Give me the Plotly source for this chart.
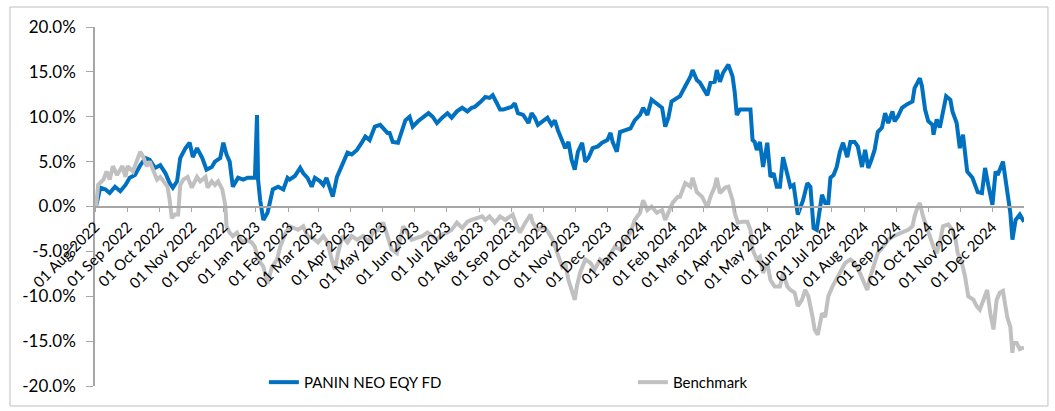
import plotly.graph_objects as go

# ---- data (percent returns) ----
fund_dates = [
    "2022-08-02", "2022-08-06", "2022-08-11", "2022-08-15", "2022-08-20", "2022-08-25", "2022-08-30",
    "2022-09-03", "2022-09-08", "2022-09-13", "2022-09-18", "2022-09-22", "2022-09-27", "2022-10-02",
    "2022-10-07", "2022-10-11", "2022-10-14", "2022-10-18", "2022-10-21", "2022-10-26", "2022-10-30",
    "2022-11-02", "2022-11-06", "2022-11-11", "2022-11-15", "2022-11-20", "2022-11-23", "2022-11-28",
    "2022-12-01", "2022-12-04", "2022-12-07", "2022-12-10", "2022-12-15", "2022-12-20", "2022-12-24",
    "2022-12-31", "2023-01-02", "2023-01-03", "2023-01-05", "2023-01-08", "2023-01-12", "2023-01-17",
    "2023-01-22", "2023-01-27", "2023-01-31", "2023-02-02", "2023-02-07", "2023-02-12", "2023-02-15",
    "2023-02-19", "2023-02-23", "2023-02-26", "2023-03-03", "2023-03-06", "2023-03-09", "2023-03-12",
    "2023-03-15", "2023-03-19", "2023-03-22", "2023-03-25", "2023-03-29", "2023-04-02", "2023-04-07",
    "2023-04-12", "2023-04-15", "2023-04-19", "2023-04-24", "2023-04-29", "2023-05-02", "2023-05-06",
    "2023-05-08", "2023-05-11", "2023-05-16", "2023-05-20", "2023-05-23", "2023-05-27", "2023-05-30",
    "2023-06-04", "2023-06-09", "2023-06-14", "2023-06-18", "2023-06-22", "2023-06-27", "2023-07-02",
    "2023-07-06", "2023-07-11", "2023-07-16", "2023-07-21", "2023-07-25", "2023-07-28", "2023-08-02",
    "2023-08-07", "2023-08-11", "2023-08-14", "2023-08-18", "2023-08-21", "2023-08-24", "2023-08-28",
    "2023-09-01", "2023-09-04", "2023-09-07", "2023-09-12", "2023-09-17", "2023-09-20", "2023-09-23",
    "2023-09-26", "2023-09-30", "2023-10-05", "2023-10-09", "2023-10-12", "2023-10-15", "2023-10-19",
    "2023-10-22", "2023-10-25", "2023-10-28", "2023-10-31", "2023-11-03", "2023-11-07", "2023-11-10",
    "2023-11-13", "2023-11-17", "2023-11-22", "2023-11-26", "2023-12-01", "2023-12-04", "2023-12-06",
    "2023-12-10", "2023-12-13", "2023-12-18", "2023-12-23", "2023-12-27", "2024-01-01", "2024-01-04",
    "2024-01-08", "2024-01-12", "2024-01-17", "2024-01-22", "2024-01-25", "2024-01-28", "2024-01-31",
    "2024-02-05", "2024-02-08", "2024-02-13", "2024-02-18", "2024-02-20", "2024-02-24", "2024-02-27",
    "2024-03-01", "2024-03-05", "2024-03-08", "2024-03-12", "2024-03-14", "2024-03-17", "2024-03-20",
    "2024-03-25", "2024-03-29", "2024-03-31", "2024-04-02", "2024-04-05", "2024-04-10", "2024-04-15",
    "2024-04-17", "2024-04-19", "2024-04-21", "2024-04-24", "2024-04-27", "2024-05-01", "2024-05-04",
    "2024-05-07", "2024-05-10", "2024-05-13", "2024-05-16", "2024-05-20", "2024-05-23", "2024-05-26",
    "2024-05-30", "2024-06-04", "2024-06-08", "2024-06-11", "2024-06-14", "2024-06-17", "2024-06-18",
    "2024-06-22", "2024-06-25", "2024-06-28", "2024-06-30", "2024-07-03", "2024-07-06", "2024-07-09",
    "2024-07-12", "2024-07-16", "2024-07-19", "2024-07-23", "2024-07-26", "2024-07-30", "2024-08-02",
    "2024-08-05", "2024-08-08", "2024-08-11", "2024-08-14", "2024-08-18", "2024-08-21", "2024-08-24",
    "2024-08-28", "2024-08-30", "2024-09-02", "2024-09-06", "2024-09-11", "2024-09-16", "2024-09-18",
    "2024-09-20", "2024-09-23", "2024-09-25", "2024-09-28", "2024-10-01", "2024-10-05", "2024-10-06",
    "2024-10-09", "2024-10-12", "2024-10-15", "2024-10-18", "2024-10-22", "2024-10-24", "2024-10-28",
    "2024-10-31", "2024-11-03", "2024-11-07", "2024-11-12", "2024-11-15", "2024-11-17", "2024-11-21",
    "2024-11-24", "2024-11-27", "2024-12-01", "2024-12-04", "2024-12-06", "2024-12-11", "2024-12-15",
    "2024-12-18", "2024-12-20", "2024-12-23", "2024-12-27", "2024-12-31",
]
fund_values = [
    0.0, 2.1, 1.9, 1.5, 2.2, 1.7, 2.4,
    3.2, 3.5, 4.6, 5.4, 5.2, 4.3, 4.6,
    3.7, 2.6, 2.1, 2.8, 5.4, 6.5, 7.1,
    5.5, 6.5, 5.4, 4.1, 4.4, 5.0, 5.4,
    7.1, 5.8, 5.0, 2.2, 3.2, 3.0, 3.2,
    3.2, 10.2, 3.0, 0.7, -1.5, -0.7, 1.9,
    2.2, 1.9, 3.2, 3.0, 3.4, 4.3, 3.7,
    3.2, 2.2, 3.2, 2.8, 2.4, 3.2, 2.2,
    1.1, 3.3, 4.1, 5.0, 6.0, 5.8, 6.3,
    7.2, 7.8, 7.4, 8.9, 9.1, 8.7, 8.2,
    8.2, 7.2, 7.1, 8.5, 9.6, 10.0, 8.9,
    9.5, 9.9, 10.4, 10.0, 9.3, 9.9, 10.4,
    9.9, 10.6, 11.0, 10.6, 11.0, 11.1, 11.6,
    12.2, 12.1, 12.4, 11.5, 10.8, 10.8, 11.0,
    11.1, 11.5, 10.4, 10.2, 9.3, 10.4, 9.9,
    9.1, 9.5, 9.9, 9.1, 9.6, 8.5, 7.4,
    6.5, 7.2, 5.2, 4.1, 6.1, 7.1, 5.0,
    5.4, 6.5, 6.7, 7.1, 7.4, 8.2, 7.2,
    6.1, 8.3, 8.5, 8.7, 9.6, 10.2, 11.0,
    10.2, 11.9, 11.5, 11.0, 8.9, 9.9, 11.7,
    12.1, 12.3, 13.4, 14.5, 15.2, 14.1, 13.8,
    13.2, 12.4, 13.8, 13.9, 15.2, 13.9, 14.9,
    15.8, 14.5, 12.8, 10.2, 10.8, 10.8, 10.8,
    7.4, 7.2, 6.3, 7.2, 4.4, 7.1, 3.3,
    3.7, 2.2, 2.2, 5.5, 3.5, 2.2, 2.4,
    -0.9, 0.7, 2.6, 2.2, -2.4, -2.6, -1.7,
    1.3, 0.4, 0.4, 3.2, 3.5, 4.4, 6.1,
    7.1, 5.5, 7.2, 7.2, 6.7, 4.4, 6.3,
    4.3, 5.2, 6.3, 8.3, 8.8, 10.4, 9.3,
    10.6, 9.5, 10.0, 11.0, 11.4, 11.7, 13.2,
    13.6, 14.3, 13.4, 10.8, 9.5, 9.1, 8.0,
    9.7, 8.8, 10.4, 12.3, 11.9, 10.6, 9.3,
    6.5, 8.0, 3.9, 3.2, 2.2, 1.6, 1.5,
    4.3, 2.4, 0.2, 3.9, 3.5, 5.0, 1.6,
    -0.7, -3.7, -1.5, -0.9, -1.7,
]

bench_dates = [
    "2022-08-02", "2022-08-04", "2022-08-09", "2022-08-12", "2022-08-15", "2022-08-18", "2022-08-22",
    "2022-08-27", "2022-08-30", "2022-09-01", "2022-09-06", "2022-09-10", "2022-09-13", "2022-09-16",
    "2022-09-19", "2022-09-22", "2022-09-25", "2022-09-29", "2022-10-02", "2022-10-07", "2022-10-09",
    "2022-10-11", "2022-10-13", "2022-10-16", "2022-10-19", "2022-10-21", "2022-10-24", "2022-10-28",
    "2022-11-01", "2022-11-06", "2022-11-09", "2022-11-14", "2022-11-16", "2022-11-20", "2022-11-23",
    "2022-11-26", "2022-11-30", "2022-12-03", "2022-12-04", "2022-12-07", "2022-12-10", "2022-12-14",
    "2022-12-19", "2022-12-23", "2022-12-28", "2022-12-31", "2023-01-03", "2023-01-08", "2023-01-12",
    "2023-01-16", "2023-01-21", "2023-01-24", "2023-01-29", "2023-02-02", "2023-02-10", "2023-02-15",
    "2023-02-19", "2023-02-24", "2023-03-01", "2023-03-06", "2023-03-10", "2023-03-14", "2023-03-17",
    "2023-03-20", "2023-03-24", "2023-03-29", "2023-04-02", "2023-04-07", "2023-04-13", "2023-04-18",
    "2023-04-22", "2023-04-27", "2023-05-02", "2023-05-06", "2023-05-10", "2023-05-15", "2023-05-18",
    "2023-05-21", "2023-05-25", "2023-05-29", "2023-06-03", "2023-06-08", "2023-06-13", "2023-06-17",
    "2023-06-22", "2023-06-27", "2023-07-02", "2023-07-06", "2023-07-11", "2023-07-16", "2023-07-21",
    "2023-07-25", "2023-07-30", "2023-08-04", "2023-08-07", "2023-08-11", "2023-08-16", "2023-08-21",
    "2023-08-26", "2023-08-30", "2023-09-02", "2023-09-06", "2023-09-09", "2023-09-14", "2023-09-19",
    "2023-09-21", "2023-09-26", "2023-10-01", "2023-10-06", "2023-10-10", "2023-10-15", "2023-10-19",
    "2023-10-22", "2023-10-25", "2023-10-28", "2023-10-31", "2023-11-02", "2023-11-05", "2023-11-10",
    "2023-11-15", "2023-11-19", "2023-11-24", "2023-11-29", "2023-12-04", "2023-12-08", "2023-12-13",
    "2023-12-18", "2023-12-23", "2023-12-27", "2024-01-01", "2024-01-04", "2024-01-08", "2024-01-12",
    "2024-01-17", "2024-01-22", "2024-01-25", "2024-01-30", "2024-02-01", "2024-02-06", "2024-02-08",
    "2024-02-13", "2024-02-18", "2024-02-20", "2024-02-24", "2024-02-29", "2024-03-05", "2024-03-08",
    "2024-03-12", "2024-03-14", "2024-03-17", "2024-03-22", "2024-03-25", "2024-03-29", "2024-03-31",
    "2024-04-03", "2024-04-07", "2024-04-12", "2024-04-15", "2024-04-17", "2024-04-21", "2024-04-24",
    "2024-04-27", "2024-05-01", "2024-05-04", "2024-05-08", "2024-05-13", "2024-05-16", "2024-05-20",
    "2024-05-23", "2024-05-27", "2024-05-30", "2024-06-03", "2024-06-06", "2024-06-09", "2024-06-13",
    "2024-06-15", "2024-06-18", "2024-06-22", "2024-06-25", "2024-06-28", "2024-07-02", "2024-07-04",
    "2024-07-09", "2024-07-14", "2024-07-19", "2024-07-23", "2024-07-28", "2024-07-31", "2024-08-04",
    "2024-08-07", "2024-08-10", "2024-08-14", "2024-08-19", "2024-08-24", "2024-08-29", "2024-09-02",
    "2024-09-07", "2024-09-12", "2024-09-16", "2024-09-18", "2024-09-21", "2024-09-23", "2024-09-26",
    "2024-09-30", "2024-10-03", "2024-10-06", "2024-10-09", "2024-10-12", "2024-10-15", "2024-10-20",
    "2024-10-24", "2024-10-27", "2024-10-29", "2024-11-02", "2024-11-05", "2024-11-08", "2024-11-13",
    "2024-11-16", "2024-11-19", "2024-11-22", "2024-11-26", "2024-11-29", "2024-12-02", "2024-12-05",
    "2024-12-08", "2024-12-11", "2024-12-15", "2024-12-18", "2024-12-20", "2024-12-21", "2024-12-24",
    "2024-12-27", "2024-12-31",
]
bench_values = [
    0.0, 2.4, 3.0, 3.9, 3.0, 4.5, 3.5,
    4.5, 3.3, 4.5, 3.9, 5.2, 6.1, 5.5,
    4.5, 5.0, 4.1, 3.0, 3.3, 2.6, 2.2,
    0.7, -1.3, -0.9, -0.9, 2.4, 3.0, 3.3,
    2.1, 3.3, 2.8, 3.3, 2.1, 2.8, 2.4,
    2.8, 1.9, 0.0, -2.2, -2.9, -3.3, -2.9,
    -4.0, -3.7, -4.0, -4.5, -5.9, -6.7, -8.6,
    -6.8, -5.9, -4.5, -3.0, -2.2, -2.6, -2.2,
    -3.3, -3.5, -4.0, -3.3, -4.0, -5.9, -7.0,
    -5.2, -3.3, -4.0, -3.3, -3.7, -3.3, -4.0,
    -2.9, -2.6, -1.8, -3.3, -4.8, -5.2, -3.7,
    -2.2, -2.9, -3.7, -3.5, -3.3, -2.9, -3.3,
    -3.7, -3.1, -2.9, -2.6, -1.8, -2.4, -1.7,
    -1.5, -1.3, -1.1, -1.5, -1.1, -1.8, -1.1,
    -1.5, -1.1, -0.9, -2.2, -2.9, -1.8, -0.9,
    -1.8, -2.6, -2.2, -2.9, -3.7, -5.2, -6.7,
    -6.3, -8.2, -9.3, -10.4, -8.9, -7.4, -5.9,
    -6.3, -7.0, -5.9, -6.3, -5.2, -4.5, -4.8,
    -3.7, -2.9, -1.5, -0.7, 0.7, -0.4, 0.0,
    -0.7, -0.4, -1.5, 0.0, 0.4, 1.1, 1.1,
    2.6, 2.2, 3.2, 1.6, 1.1, -0.1, 1.1,
    2.2, 3.2, 1.5, 2.1, 2.2, 0.7, -0.7,
    -1.8, -1.7, -1.7, -2.6, -4.8, -5.9, -5.6,
    -7.4, -6.3, -8.2, -8.9, -8.9, -7.4, -8.9,
    -9.3, -9.6, -11.1, -10.4, -9.3, -10.0, -12.3,
    -13.7, -14.3, -11.9, -12.3, -10.0, -8.9, -8.5,
    -7.4, -6.3, -5.9, -6.3, -7.4, -8.2, -9.3,
    -7.8, -6.7, -5.2, -4.5, -3.7, -3.3, -3.1,
    -2.9, -2.6, -2.2, -1.1, 0.0, 0.4, -1.1,
    -2.6, -3.7, -4.5, -5.2, -4.0, -2.2, -2.0,
    -2.6, -3.7, -5.2, -6.3, -7.8, -10.0, -10.4,
    -11.1, -11.5, -10.4, -9.3, -11.9, -13.7, -10.4,
    -9.6, -9.4, -12.3, -13.4, -16.3, -15.2, -15.2,
    -15.9, -15.7,
]

fund_name = "PANIN NEO EQY FD"
bench_name = "Benchmark"
y_ticks = [-20, -15, -10, -5, 0, 5, 10, 15, 20]
y_tick_labels = ["-20.0%", "-15.0%", "-10.0%", "-5.0%", "0.0%", "5.0%", "10.0%", "15.0%", "20.0%"]

FONT = "Lato, 'Open Sans', sans-serif"
AXIS_GREY = "#a6a6a6"

fig = go.Figure()
fig.add_trace(go.Scatter(x=fund_dates, y=fund_values, mode="lines", name=fund_name,
                         line=dict(color="#0070C0", width=4)))
fig.add_trace(go.Scatter(x=bench_dates, y=bench_values, mode="lines", name=bench_name,
                         line=dict(color="#C0C0C0", width=4)))

fig.update_layout(
    width=1055, height=411,
    margin=dict(l=95, r=31, t=27, b=25),
    paper_bgcolor="white", plot_bgcolor="white",
    font=dict(family=FONT, color="#000000"),
    showlegend=True,
    hovermode=False,
    legend=dict(orientation="h", x=0.1818, xanchor="left", y=0.01, yanchor="middle",
                font=dict(family=FONT, size=15, color="#000000"),
                entrywidth=324, bgcolor="rgba(0,0,0,0)"),
    xaxis=dict(
        type="date",
        range=["2022-08-01", "2024-12-31"],
        tick0="2022-08-01", dtick="M1",
        tickformat="%d %b %Y",
        tickangle=-45,
        tickfont=dict(family=FONT, size=15, color="#000000"),
        showgrid=False, zeroline=False,
        showline=True, linecolor=AXIS_GREY, linewidth=1.5,
        ticks="outside", ticklen=5, tickcolor=AXIS_GREY,
        anchor="free", position=0.5,
        automargin=False,
    ),
    yaxis=dict(
        range=[-20, 20],
        tickmode="array", tickvals=y_ticks, ticktext=y_tick_labels,
        tickfont=dict(family=FONT, size=17, color="#000000"),
        ticklabelstandoff=7,
        showgrid=False, zeroline=False,
        showline=True, linecolor=AXIS_GREY, linewidth=1.5,
        ticks="outside", ticklen=7, tickcolor=AXIS_GREY,
        domain=[0, 1],
        automargin=False,
    ),
)

# outer chart frame
fig.add_shape(type="rect", xref="paper", yref="paper",
              x0=-0.0915, x1=1.0258, y0=-0.0557, y1=1.0557,
              line=dict(color="#bfbfbf", width=1), fillcolor="rgba(0,0,0,0)", layer="below")

# remove the browser's default 8px body margin so the figure sits at the page origin
fig.write_html("out.html",
               config={"displayModeBar": False},
               post_script="document.body.style.margin='0';document.body.style.overflow='hidden';")
